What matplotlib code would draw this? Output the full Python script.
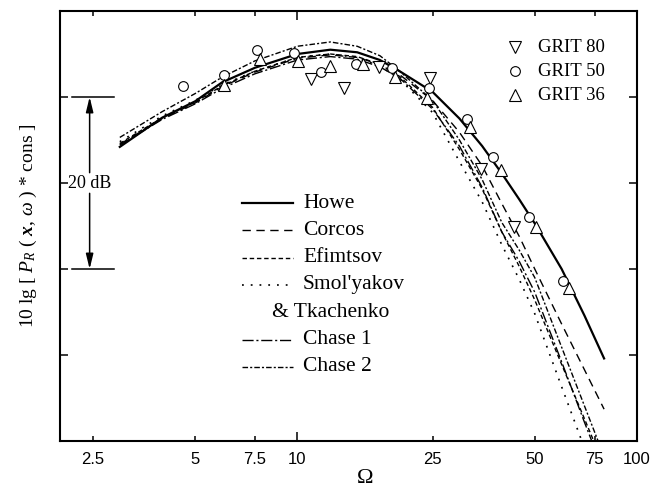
import numpy as np
import matplotlib.pyplot as plt
from matplotlib.ticker import FixedLocator

plt.rcParams['font.family'] = ['Liberation Serif', 'DejaVu Serif']
plt.rcParams['mathtext.fontset'] = 'custom'
plt.rcParams['mathtext.rm'] = 'Liberation Serif'
plt.rcParams['mathtext.it'] = 'Liberation Serif:italic'
plt.rcParams['mathtext.bf'] = 'Liberation Serif:italic:bold'
plt.rcParams['lines.scale_dashes'] = False

# model spectra, 10 lg [P_R] in dB against Omega
omega = [3, 4, 5, 6, 7.5, 10, 12.5, 15, 17.5, 20, 25, 30, 35, 40, 45, 50, 60, 70, 80]
howe = [14.2, 17.6, 19.5, 21.7, 23.4, 25.0, 25.5, 25.2, 24.3, 23.0, 20.6, 17.5, 14.3, 11.1, 8.1, 5.3, 0.0, -5.4, -10.4]
corcos = [14.5, 17.5, 19.3, 21.2, 22.9, 24.5, 24.9, 24.6, 23.8, 22.6, 19.6, 15.9, 12.0, 7.6, 3.8, 0.0, -6.4, -11.7, -16.3]
efimtsov = [14.6, 17.6, 19.4, 21.3, 23.0, 24.6, 25.0, 24.7, 23.8, 22.4, 18.8, 13.9, 9.3, 4.3, 0.3, -3.6, -11.1, -17.4, -22.9]
smolyakov = [14.8, 17.8, 19.6, 21.4, 23.0, 24.6, 25.0, 24.6, 23.6, 22.1, 18.2, 12.5, 7.8, 2.8, -1.2, -5.2, -13.7, -20.8, -27.1]
chase1 = [14.4, 17.4, 19.2, 21.0, 22.7, 24.3, 24.7, 24.4, 23.5, 22.2, 18.6, 14.3, 9.5, 4.3, 0.9, -2.7, -10.8, -17.8, -23.7]
chase2 = [15.3, 18.3, 20.4, 22.3, 24.2, 25.9, 26.4, 25.9, 24.8, 23.0, 19.6, 15.0, 10.4, 5.4, 2.2, -1.0, -9.1, -15.9, -21.8]

# measurements
grit80_x = [10.99, 13.75, 17.43, 24.62, 34.77, 43.48]
grit80_y = [22.1, 21.0, 23.5, 22.2, 11.6, 4.9]
grit50_x = [4.62, 6.06, 7.63, 9.80, 11.77, 14.91, 19.03, 24.45, 31.62, 37.71, 48.13, 60.58]
grit50_y = [21.3, 22.6, 25.5, 25.1, 22.9, 23.8, 23.4, 21.0, 17.4, 13.0, 6.0, -1.4]
grit36_x = [6.06, 7.78, 10.07, 12.50, 15.64, 19.42, 24.12, 32.27, 39.81, 50.46, 63.10]
grit36_y = [21.4, 24.4, 24.2, 23.6, 23.8, 22.3, 19.9, 16.5, 11.5, 4.9, -2.2]

fig = plt.figure(figsize=(6.71, 4.9), dpi=100)
ax = fig.add_axes([60 / 671, 49 / 490, 577 / 671, 430 / 490])

models = [
    ('Howe', howe, None, 1.6),
    ('Corcos', corcos, (6, 4), 1.0),
    ('Efimtsov', efimtsov, (3.2, 2), 1.0),
    ("Smol'yakov", smolyakov, (1.3, 5), 1.2),
    ('Chase 1', chase1, (8, 2, 1.5, 2), 1.0),
    ('Chase 2', chase2, (4, 1.5, 1.5, 1.5), 1.0),
]
for name, vals, dash, lw in models:
    ln, = ax.plot(omega, vals, color='black', lw=lw)
    if dash:
        ln.set_dashes(dash)

mk = dict(color='black', ls='none', mfc='white', mew=0.8, zorder=5)
ax.plot(grit80_x, grit80_y, marker='v', ms=8, **mk)
ax.plot(grit50_x, grit50_y, marker='o', ms=7, **mk)
ax.plot(grit36_x, grit36_y, marker='^', ms=8, **mk)

ax.set_xscale('log')
ax.set_xlim(2, 100)
ax.set_ylim(-20, 30)
ax.xaxis.set_major_locator(FixedLocator([10, 100]))
ax.xaxis.set_minor_locator(FixedLocator([2.5, 5, 7.5, 25, 50, 75]))
ax.xaxis.set_major_formatter(plt.FixedFormatter(['10', '100']))
ax.xaxis.set_minor_formatter(plt.FixedFormatter(['2.5', '5', '7.5', '25', '50', '75']))
ax.set_yticks([-10, 0, 10, 20])
ax.set_yticklabels([])
ax.tick_params(which='both', direction='in', top=True, right=True, width=1.1,
               labelsize=12, labelfontfamily='Liberation Sans', pad=8)
ax.tick_params(which='major', axis='x', length=6.5)
ax.tick_params(which='minor', axis='x', length=3.5)
ax.tick_params(axis='y', length=6)
for s in ax.spines.values():
    s.set_linewidth(1.5)

# line legend drawn by hand
row0 = (441 - 203) / 430
step = 27.3 / 430
rows = [('Howe', 0), ('Corcos', 1), ('Efimtsov', 2), ("Smol'yakov", 3), ('Chase 1', 5), ('Chase 2', 6)]
for (name, vals, dash, lw), (label, r) in zip(models, rows):
    y = row0 - r * step
    ln, = ax.plot([0.3154, 0.4038], [y, y], color='black', lw=lw, transform=ax.transAxes)
    if dash:
        ln.set_dashes(dash)
    ax.text(0.4211, y, label, transform=ax.transAxes, fontsize=15.5, va='center', ha='left')
ax.text(0.367, row0 - 4 * step, '& Tkachenko', transform=ax.transAxes, fontsize=15.5,
        va='center', ha='left')

# marker legend
for i, (m, ms, label) in enumerate([('v', 8, 'GRIT 80'), ('o', 7, 'GRIT 50'), ('^', 8, 'GRIT 36')]):
    y = (441 - 47 - 24 * i) / 430
    ax.plot([0.7886], [y], marker=m, ms=ms, color='black', mfc='white', mew=0.8,
            transform=ax.transAxes, clip_on=False)
    ax.text(0.8284, y, label, transform=ax.transAxes, fontsize=13.5, va='center', ha='left')

# 20 dB scale bar
ax.plot([2.165, 2.876], [20, 20], color='black', lw=1.1)
ax.plot([2.165, 2.876], [0, 0], color='black', lw=1.1)
arr = dict(arrowstyle='-|>,head_length=0.9,head_width=0.22', color='black', lw=1.1,
           shrinkA=0, shrinkB=0)
ax.annotate('', xy=(2.445, 20), xytext=(2.445, 11.2), arrowprops=arr)
ax.annotate('', xy=(2.445, 0), xytext=(2.445, 8.8), arrowprops=arr)
ax.text(2.445, 10, '20 dB', fontsize=13, ha='center', va='center')

fig.text(28 / 671, 1 - 226 / 490, r'10 lg [ $P_R$ ( $\mathbf{x}$, $\omega$ ) * cons ]',
         rotation=90, ha='center', va='center', fontsize=14)
fig.text(365 / 671, 1 - 469 / 490, r'$\Omega$', ha='center', va='top', fontsize=16)

fig.savefig('out.png', dpi=100)
